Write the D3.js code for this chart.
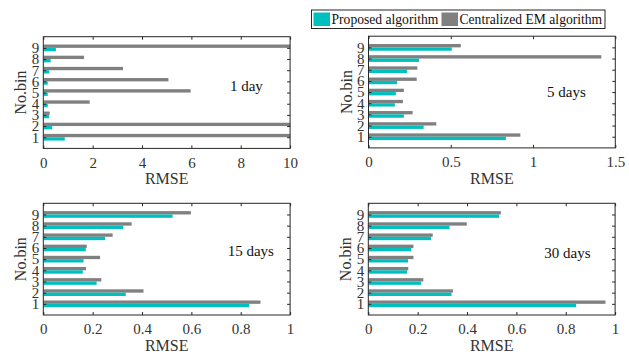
<!DOCTYPE html>
<html>
<head>
<meta charset="utf-8">
<script src="https://cdn.jsdelivr.net/npm/d3@7"></script>
<style>
  body { margin: 0; background: #fff; }
  svg { display: block; font-family: "Liberation Serif", "DejaVu Serif", serif; }
</style>
</head>
<body>
<div class="chart"></div>
<script>
// bins 1..9, two series per panel
var bins = [1, 2, 3, 4, 5, 6, 7, 8, 9];
var panelNames = ["1 day", "5 days", "15 days", "30 days"];
var seriesNames = ["Proposed algorithm", "Centralized EM algorithm"];

var proposed1  = [0.87, 0.36, 0.23, 0.18, 0.18, 0.18, 0.24, 0.30, 0.51];
var central1   = [14.0, 14.0, 0.26, 1.88, 5.97, 5.07, 3.23, 1.65, 14.0];
var proposed5  = [0.835, 0.335, 0.215, 0.160, 0.166, 0.173, 0.234, 0.307, 0.506];
var central5   = [0.923, 0.412, 0.268, 0.209, 0.215, 0.293, 0.297, 1.415, 0.561];
var proposed15 = [0.834, 0.334, 0.216, 0.160, 0.163, 0.172, 0.250, 0.324, 0.524];
var central15  = [0.880, 0.406, 0.235, 0.173, 0.230, 0.176, 0.281, 0.358, 0.598];
var proposed30 = [0.842, 0.337, 0.214, 0.157, 0.161, 0.173, 0.254, 0.329, 0.530];
var central30  = [0.961, 0.343, 0.223, 0.162, 0.183, 0.183, 0.261, 0.399, 0.537];

var xMax = [10, 1.5, 1, 1];
var xTicks1 = [0, 2, 4, 6, 8, 10];
var xTicks5 = [0, 0.5, 1, 1.5];
var xTicks15 = [0, 0.2, 0.4, 0.6, 0.8, 1];
var xTicks30 = [0, 0.2, 0.4, 0.6, 0.8, 1];

// where the "n days" note sits, in data units (x, bin)
var noteX = [7.56, 1.085, 0.747, 0.713];
var noteY = [5.13, 4.55, 5.28, 5.1];

var colors = ["#00bfbf", "#808080"];

var W = 629, H = 354;
var svg = d3.select(".chart").append("svg")
    .attr("width", W)
    .attr("height", H);

var panels = [
    {left: 43.3, top: 36.7, proposed: proposed1, central: central1, ticks: xTicks1},
    {left: 368.5, top: 36.2, proposed: proposed5, central: central5, ticks: xTicks5},
    {left: 43.3, top: 203.3, proposed: proposed15, central: central15, ticks: xTicks15},
    {left: 368.3, top: 203.3, proposed: proposed30, central: central30, ticks: xTicks30}
];
var pw = 246.8, ph = 111.7;
var axisColor = "#262626";

panels.forEach(function(p, i) {
    var g = svg.append("g")
        .attr("transform", "translate(" + p.left + "," + p.top + ")");

    var x = d3.scaleLinear().domain([0, xMax[i]]).range([0, pw]);
    var y = d3.scaleLinear().domain([0, 10]).range([ph, 0]);
    var barH = y(0) - y(0.3);

    g.append("clipPath").attr("id", "clip" + i)
        .append("rect").attr("width", pw).attr("height", ph);

    var bars = g.append("g").attr("clip-path", "url(#clip" + i + ")");

    // centralized EM (grey) above, proposed (cyan) below
    bars.selectAll(".c").data(bins).enter().append("rect")
        .attr("x", x(0))
        .attr("y", function(d) { return y(d) - barH; })
        .attr("width", function(d, j) { return x(p.central[j]) - x(0); })
        .attr("height", barH)
        .attr("fill", colors[1]);

    bars.selectAll(".p").data(bins).enter().append("rect")
        .attr("x", x(0))
        .attr("y", function(d) { return y(d); })
        .attr("width", function(d, j) { return x(p.proposed[j]) - x(0); })
        .attr("height", barH)
        .attr("fill", colors[0]);

    // axes with inward ticks on all four sides
    var fmt = function(d) { return d3.format("")(d); };
    var bottom = g.append("g")
        .attr("transform", "translate(0," + ph + ")")
        .call(d3.axisBottom(x).tickValues(p.ticks).tickSize(-3).tickPadding(5).tickFormat(fmt));
    var top = g.append("g")
        .call(d3.axisTop(x).tickValues(p.ticks).tickSize(-3).tickFormat(""));
    var left = g.append("g")
        .call(d3.axisLeft(y).tickValues(bins).tickSize(-3).tickPadding(4).tickFormat(d3.format("d")));
    var right = g.append("g")
        .attr("transform", "translate(" + pw + ",0)")
        .call(d3.axisRight(y).tickValues(bins).tickSize(-3).tickFormat(""));

    [bottom, top, left, right].forEach(function(a) {
        a.select(".domain").remove();
        a.selectAll("line").attr("stroke", axisColor);
        a.selectAll("text")
            .attr("fill", "#333")
            .style("font-family", "Liberation Serif")
            .style("font-size", "15px");
    });
    bottom.selectAll("text").attr("dy", "0.95em");

    g.append("rect")
        .attr("width", pw).attr("height", ph)
        .attr("fill", "none")
        .attr("stroke", axisColor)
        .attr("stroke-width", 1);

    g.append("text")
        .attr("x", pw / 2)
        .attr("y", ph + 36)
        .attr("text-anchor", "middle")
        .attr("fill", "#333")
        .style("font-size", "16px")
        .text("RMSE");

    g.append("text")
        .attr("transform", "translate(-17," + (ph / 2) + ") rotate(-90)")
        .attr("text-anchor", "middle")
        .attr("fill", "#333")
        .style("font-size", "16px")
        .text("No.bin");

    g.append("text")
        .attr("x", x(noteX[i]))
        .attr("y", y(noteY[i]))
        .attr("fill", "#111")
        .style("font-size", "15px")
        .text(panelNames[i]);
});

// legend
var lg = svg.append("g").attr("transform", "translate(311.5,10)");
lg.append("rect")
    .attr("width", 293.5).attr("height", 18.5)
    .attr("fill", "#fff")
    .attr("stroke", axisColor);
var legX = [2, 130];
seriesNames.forEach(function(name, k) {
    lg.append("rect")
        .attr("x", legX[k]).attr("y", 2.5)
        .attr("width", 16.5).attr("height", 13.5)
        .attr("fill", colors[k]);
    lg.append("text")
        .attr("x", legX[k] + 18)
        .attr("y", 13.8)
        .attr("fill", "#111")
        .style("font-size", "13.6px")
        .text(name);
});
</script>
</body>
</html>
